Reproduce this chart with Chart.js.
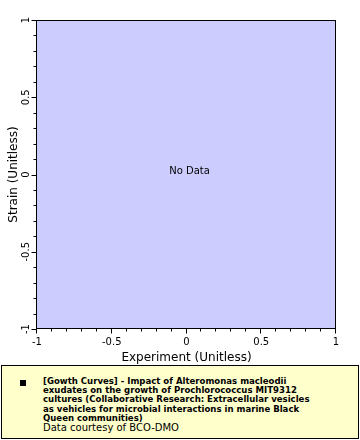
<!DOCTYPE html>
<html>
<head>
<meta charset="utf-8">
<script src="https://cdn.jsdelivr.net/npm/chart.js@4/dist/chart.umd.min.js"></script>
<style>
  body { margin: 0; background: #fff; }
  #wrap { position: relative; width: 360px; height: 440px; }
  #chart { position: absolute; left: 0; top: 0; }
  #legend {
    position: absolute; left: 1px; top: 365px; width: 356px; height: 72px;
    background: #ffffcc; border: 1px solid #000;
    font-family: "DejaVu Sans Condensed", "DejaVu Sans", sans-serif; font-size: 9.5px; line-height: 9.2px;
  }
  #legend .mark { position: absolute; left: 18px; top: 14px; width: 6px; height: 6px; background: #000; }
  #legend .txt { position: absolute; left: 41px; top: 10px; width: 315px; white-space: nowrap; }
  #legend b { font-weight: bold; display: block; }
  #legend .src { display: block; margin-top: 1px; font-family: "DejaVu Sans", sans-serif; font-size: 10px; line-height: 9.5px; }
</style>
</head>
<body>
<div id="wrap">
  <canvas id="chart" width="360" height="365"></canvas>
  <div id="legend">
    <div class="mark"></div>
    <div class="txt"><b id="legTitle"></b><span class="src" id="legSrc"></span></div>
  </div>
</div>
<script>
// axis ranges and labels
const xRange = [-1, 1];
const yRange = [-1, 1];
const xTitle = "Experiment (Unitless)";
const yTitle = "Strain (Unitless)";
const majorStep = 0.5;
const minorStep = 0.1;

// series (the dataset has no points)
const seriesNameLines = [
  "[Gowth Curves] - Impact of Alteromonas macleodii",
  "exudates on the growth of Prochlorococcus MIT9312",
  "cultures (Collaborative Research: Extracellular vesicles",
  "as vehicles for microbial interactions in marine Black",
  "Queen communities)"
];
const seriesX = [];
const seriesY = [];
const credit = "Data courtesy of BCO-DMO";
const emptyText = "No Data";

const tEl = document.getElementById("legTitle");
seriesNameLines.forEach((l, i) => {
  if (i) tEl.appendChild(document.createElement("br"));
  tEl.appendChild(document.createTextNode(l));
});
document.getElementById("legSrc").textContent = credit;

const isMajor = (v) => Math.abs(v / majorStep - Math.round(v / majorStep)) < 1e-6;
const fmt = (v) => String(Math.round(v * 10) / 10);

const frame = {
  id: "frame",
  beforeDatasetsDraw(chart) {
    const {ctx, chartArea: a} = chart;
    ctx.save();
    ctx.fillStyle = "#ccccff";
    ctx.fillRect(a.left, a.top, a.right - a.left, a.bottom - a.top);
    ctx.restore();
  },
  afterDraw(chart) {
    const {ctx, chartArea: a, scales} = chart;
    ctx.save();
    ctx.strokeStyle = "#000";
    ctx.lineWidth = 1;
    const L = Math.round(a.left) - 0.5, T = Math.round(a.top) + 0.5;
    const R = Math.round(a.right) - 0.5, B = Math.round(a.bottom) - 0.5;
    ctx.strokeRect(L, T, R - L, B - T);
    ctx.beginPath();
    scales.x.ticks.forEach(t => {
      const px = Math.round(scales.x.getPixelForValue(t.value)) - 0.5;
      const len = isMajor(t.value) ? 5 : 3;
      ctx.moveTo(px, B);
      ctx.lineTo(px, B + len);
    });
    scales.y.ticks.forEach(t => {
      const py = Math.round(scales.y.getPixelForValue(t.value)) + 0.5;
      const len = isMajor(t.value) ? 5 : 3;
      ctx.moveTo(L, py);
      ctx.lineTo(L - len, py);
    });
    ctx.stroke();
    if (!seriesX.length) {
      ctx.fillStyle = "#000";
      ctx.font = "10px 'DejaVu Sans'";
      ctx.textAlign = "center";
      ctx.textBaseline = "middle";
      ctx.fillText(emptyText, (a.left + a.right) / 2 + 3, (a.top + a.bottom) / 2 - 3);
    }
    ctx.restore();
  }
};

new Chart(document.getElementById("chart"), {
  type: "scatter",
  data: {
    datasets: [{
      label: seriesNameLines.join(" "),
      data: seriesX.map((x, i) => ({x: x, y: seriesY[i]})),
      backgroundColor: "#000"
    }]
  },
  options: {
    responsive: false,
    animation: false,
    layout: { padding: { top: 20, right: 24, left: 7, bottom: 0 } },
    plugins: { legend: { display: false }, tooltip: { enabled: false } },
    scales: {
      x: {
        type: "linear", min: xRange[0], max: xRange[1],
        grid: { display: false, drawTicks: false, tickLength: 0 }, border: { display: false },
        afterFit(s) { s.height = 36; },
        ticks: {
          stepSize: minorStep, autoSkip: false, padding: 7, maxRotation: 0,
          color: "#000", font: { family: "DejaVu Sans", size: 10 },
          callback: (v) => isMajor(v) ? fmt(v) : ""
        },
        title: { display: true, text: xTitle, color: "#000", padding: 0,
          font: { family: "DejaVu Sans", size: 12 } }
      },
      y: {
        type: "linear", min: yRange[0], max: yRange[1],
        grid: { display: false, drawTicks: false, tickLength: 0 }, border: { display: false },
        afterFit(s) { s.width = 30; },
        ticks: {
          stepSize: minorStep, autoSkip: false, padding: 1, minRotation: 90, maxRotation: 90,
          crossAlign: "center",
          color: "#000", font: { family: "DejaVu Sans", size: 10 },
          callback: (v) => isMajor(v) ? fmt(v) : ""
        },
        title: { display: true, text: yTitle, color: "#000", padding: 0,
          font: { family: "DejaVu Sans", size: 12 } }
      }
    }
  },
  plugins: [frame]
});
</script>
</body>
</html>
